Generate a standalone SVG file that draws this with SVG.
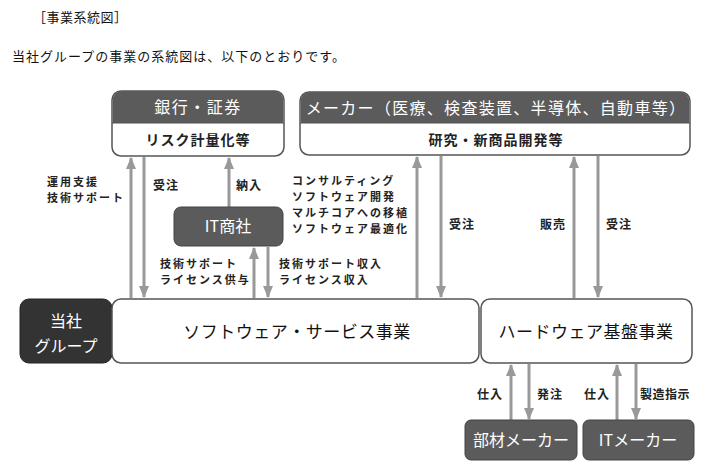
<svg xmlns="http://www.w3.org/2000/svg" width="710" height="474" viewBox="0 0 710 474">
<defs>
<style>
text{font-family:"Noto Sans CJK JP","Noto Sans",sans-serif;}
.intro{font-size:13px;fill:#111;letter-spacing:1px;}
.box{fill:#fff;stroke:#555;stroke-width:1.5;}
.hdr{fill:#5b5b5b;}
.dark{fill:#5b5b5b;stroke:#444;stroke-width:1;}
.darker{fill:#333;stroke:#222;stroke-width:1;}
.wt{fill:#fff;font-size:16px;text-anchor:middle;}
.sub{fill:#222;font-size:14px;font-weight:bold;text-anchor:middle;letter-spacing:1px;}
.nt{fill:#111;font-size:17px;text-anchor:middle;letter-spacing:0.5px;}
.lbl{fill:#222;font-size:12px;font-weight:bold;letter-spacing:1px;}
.ml{fill:#222;font-size:11px;font-weight:bold;letter-spacing:2px;}
.arr{stroke:#999;stroke-width:3;fill:none;marker-end:url(#ah);}
</style>
<marker id="ah" viewBox="0 0 12 10" refX="11" refY="5" markerWidth="12" markerHeight="10" markerUnits="userSpaceOnUse" orient="auto">
<path d="M0,0 L12,5 L0,10 Z" fill="#999"/>
</marker>
</defs>
<rect width="710" height="474" fill="#fff"/>
<text class="intro" x="33" y="22" style="letter-spacing:0.5px">［事業系統図］</text>
<text class="intro" x="12" y="61">当社グループの事業の系統図は、以下のとおりです。</text>

<g id="connectors">
<line class="arr" x1="131" y1="298" x2="131" y2="158"/>
<line class="arr" x1="144" y1="157" x2="144" y2="297"/>
<line class="arr" x1="229" y1="207" x2="229" y2="158"/>
<line class="arr" x1="254" y1="298" x2="254" y2="248"/>
<line class="arr" x1="268" y1="247" x2="268" y2="297"/>
<line class="arr" x1="417" y1="298" x2="417" y2="157"/>
<line class="arr" x1="441" y1="156" x2="441" y2="297"/>
<line class="arr" x1="574" y1="298" x2="574" y2="157"/>
<line class="arr" x1="598" y1="156" x2="598" y2="297"/>
<line class="arr" x1="511" y1="420" x2="511" y2="365"/>
<line class="arr" x1="529" y1="364" x2="529" y2="419"/>
<line class="arr" x1="617" y1="420" x2="617" y2="365"/>
<line class="arr" x1="636" y1="364" x2="636" y2="419"/>
</g>

<g id="labels">
<text class="ml" x="47" y="186">運用支援</text>
<text class="ml" x="47" y="202">技術サポート</text>
<text class="lbl" x="153" y="190">受注</text>
<text class="lbl" x="236" y="190">納入</text>
<text class="ml" x="292" y="185">コンサルティング</text>
<text class="ml" x="292" y="201">ソフトウェア開発</text>
<text class="ml" x="292" y="217">マルチコアへの移植</text>
<text class="ml" x="292" y="233">ソフトウェア最適化</text>
<text class="ml" x="160" y="268">技術サポート</text>
<text class="ml" x="160" y="284">ライセンス供与</text>
<text class="ml" x="279" y="268">技術サポート収入</text>
<text class="ml" x="279" y="284">ライセンス収入</text>
<text class="lbl" x="449" y="229">受注</text>
<text class="lbl" x="540" y="229">販売</text>
<text class="lbl" x="606" y="229">受注</text>
<text class="lbl" x="477" y="399">仕入</text>
<text class="lbl" x="537" y="399">発注</text>
<text class="lbl" x="584" y="399">仕入</text>
<text class="lbl" x="640" y="399" style="letter-spacing:0.5px">製造指示</text>
</g>

<g id="bank">
<rect class="box" x="112" y="91" width="172" height="65" rx="9"/>
<path class="hdr" d="M112.75,123 V100 a9,9 0 0 1 9,-9 H274.25 a9,9 0 0 1 9,9 V123 Z"/>
<line x1="112" y1="123" x2="284" y2="123" stroke="#555" stroke-width="1"/>
<text class="wt" x="198" y="113" letter-spacing="1.5">銀行・証券</text>
<text class="sub" x="198" y="145">リスク計量化等</text>
</g>

<g id="maker">
<rect class="box" x="300" y="92" width="390" height="63" rx="9"/>
<path class="hdr" d="M300.75,123 V101 a9,9 0 0 1 9,-9 H680.25 a9,9 0 0 1 9,9 V123 Z"/>
<line x1="300" y1="123" x2="690" y2="123" stroke="#555" stroke-width="1"/>
<text class="wt" x="496" y="114" letter-spacing="1.3">メーカー（医療、検査装置、半導体、自動車等）</text>
<text class="sub" x="496" y="145">研究・新商品開発等</text>
</g>

<g id="itshosha">
<rect class="dark" x="174" y="207" width="109" height="39" rx="7"/>
<text class="wt" x="228" y="232">IT商社</text>
</g>

<g id="tousha">
<rect class="darker" x="20" y="299" width="92" height="64" rx="9"/>
<text class="wt" x="66" y="327" font-size="17">当社</text>
<text class="wt" x="66" y="352" font-size="17">グループ</text>
</g>

<g id="software">
<rect class="box" x="112" y="299" width="367" height="64" rx="9"/>
<text class="nt" x="297" y="338">ソフトウェア・サービス事業</text>
</g>

<g id="hardware">
<rect class="box" x="481" y="299" width="211" height="64" rx="9"/>
<text class="nt" x="586" y="338">ハードウェア基盤事業</text>
</g>

<g id="buzai">
<rect class="dark" x="465" y="420" width="112" height="40" rx="6"/>
<text class="wt" x="521" y="446" font-size="17">部材メーカー</text>
</g>

<g id="itmaker">
<rect class="dark" x="583" y="420" width="111" height="40" rx="6"/>
<text class="wt" x="638" y="446" font-size="17">ITメーカー</text>
</g>
</svg>
